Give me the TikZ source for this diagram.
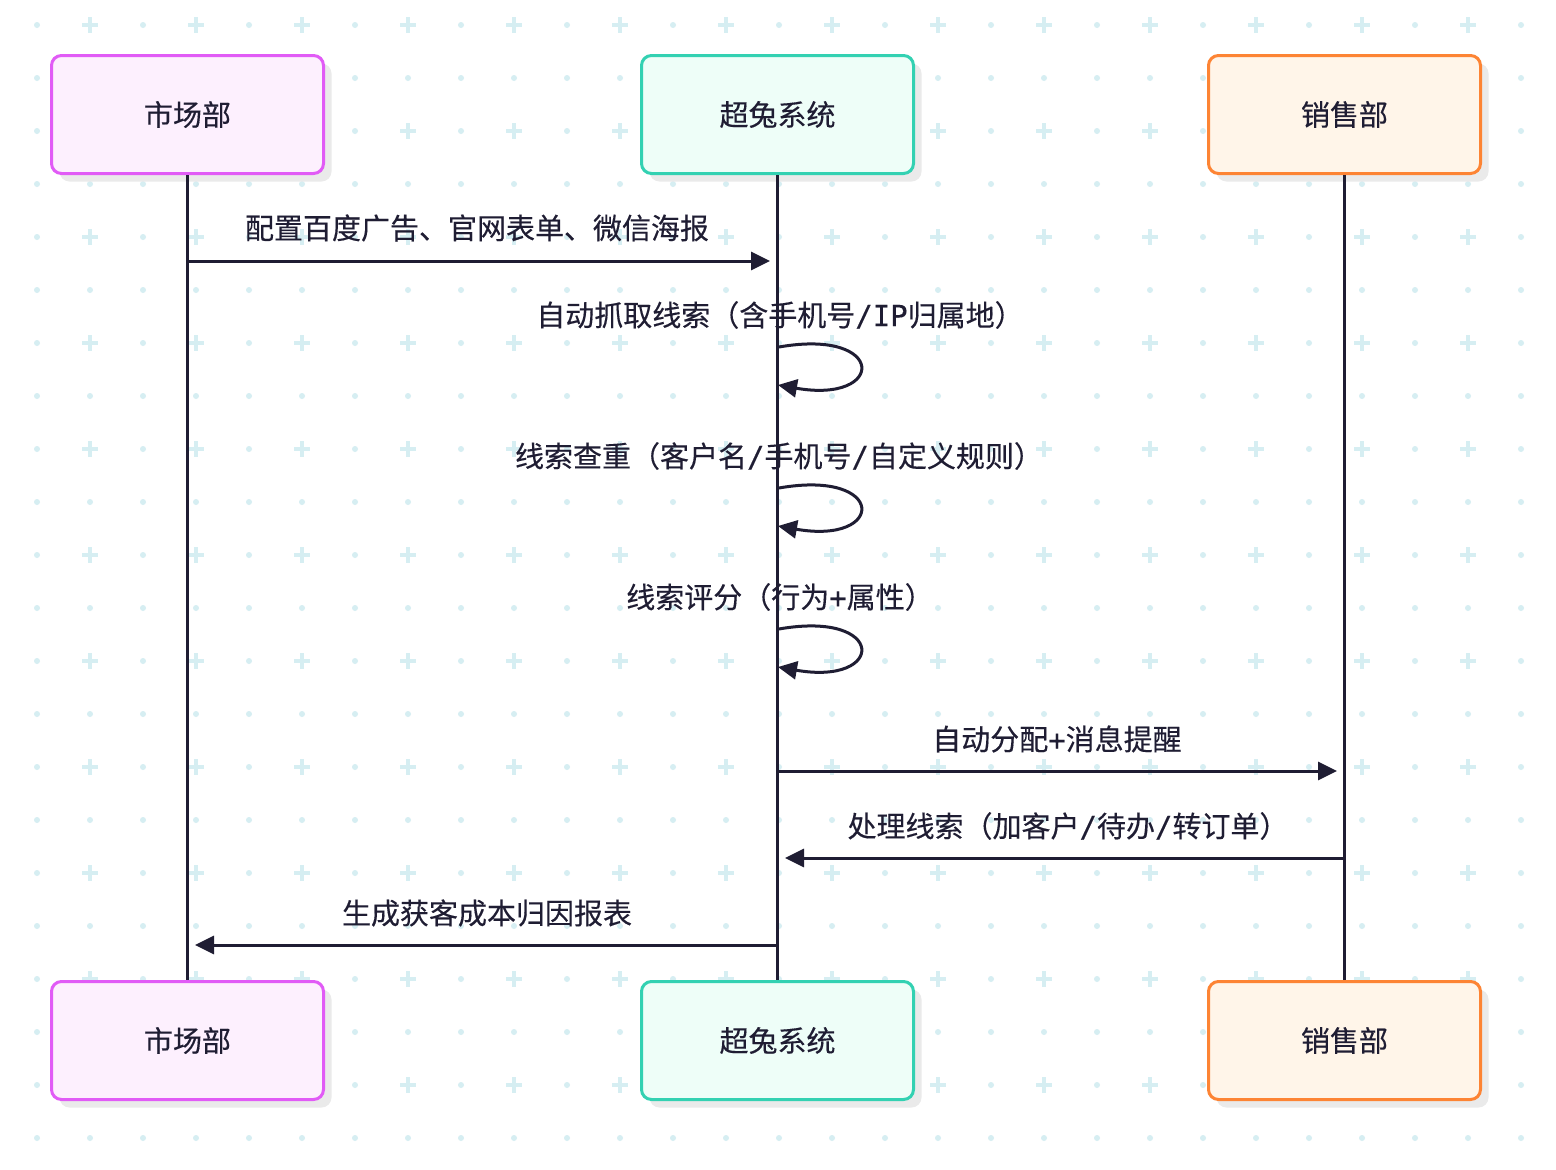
\documentclass[tikz,border=0pt]{standalone}
\usepackage{fontspec}
\setmainfont{Noto Sans CJK SC}[FakeBold=0.3]
\newfontfamily\latfont{DejaVu Sans Mono}[FakeBold=0.3]
\newcommand\lat[1]{{\latfont #1}}
\usetikzlibrary{arrows.meta,calc,shadows}
\definecolor{ink}{HTML}{1F1D33}
\definecolor{gridc}{HTML}{D6EEF2}
\definecolor{shadowc}{HTML}{EAEAEA}
\definecolor{magB}{HTML}{E15BF6}
\definecolor{magF}{HTML}{FDF0FE}
\definecolor{teaB}{HTML}{33D1B2}
\definecolor{teaF}{HTML}{EEFEF8}
\definecolor{oraB}{HTML}{FD8434}
\definecolor{oraF}{HTML}{FFF5E9}
\begin{document}
\begin{tikzpicture}[x=1pt,y=-1pt,
  actor/.style={draw, rounded corners=10pt, line width=3pt, minimum width=272pt,
    minimum height=118pt, inner sep=0pt, text=ink,
    font=\fontsize{29}{34}\selectfont,
    drop shadow={shadow xshift=8pt, shadow yshift=-8pt, fill=shadowc, opacity=1}},
  actM/.style={actor, draw=magB, fill=magF},
  actT/.style={actor, draw=teaB, fill=teaF},
  actO/.style={actor, draw=oraB, fill=oraF},
  life/.style={draw=ink, line width=3pt},
  msg/.style={draw=ink, line width=3pt, -{Triangle[length=19pt,width=18pt]}},
  lbl/.style={text=ink, inner sep=0pt, font=\fontsize{29}{34}\selectfont},
  gdot/.style={fill=gridc},
  gplus/.style={draw=gridc, line width=3.5pt}
]
\useasboundingbox (0,0) rectangle (1556,1170);
\fill[white] (0,0) rectangle (1556,1170);
% background grid
\foreach \k in {0,2,...,20} {
  \foreach \m in {0,...,14} \fill[gdot] ({37+106*\m},{25+53*\k}) circle[radius=3pt];
  \foreach \m in {0,...,13} \draw[gplus] ({90+106*\m-8},{25+53*\k}) -- ({90+106*\m+8},{25+53*\k})
     ({90+106*\m},{25+53*\k-8}) -- ({90+106*\m},{25+53*\k+8});
}
\foreach \k in {1,3,...,21} {
  \foreach \j in {0,...,28} \fill[gdot] ({37+53*\j},{25+53*\k}) circle[radius=3pt];
}
% actors
\node[actM] (m1) at (187.5,114.5) {市场部};
\node[actT] (s1) at (777.5,114.5) {超兔系统};
\node[actO] (x1) at (1344.5,114.5) {销售部};
\node[actM] (m2) at (187.5,1040.5) {市场部};
\node[actT] (s2) at (777.5,1040.5) {超兔系统};
\node[actO] (x2) at (1344.5,1040.5) {销售部};
% lifelines
\draw[life] (m1.south) -- (m2.north);
\draw[life] (s1.south) -- (s2.north);
\draw[life] (x1.south) -- (x2.north);
% message points
\coordinate (p1a) at (187.5,261);
\coordinate (p1b) at (770,261);
\coordinate (l1a) at (779,347);
\coordinate (l1b) at (778,385);
\coordinate (l2a) at (779,488);
\coordinate (l2b) at (778,526);
\coordinate (l3a) at (779,629);
\coordinate (l3b) at (778,667);
\coordinate (p5a) at (777.5,771);
\coordinate (p5b) at (1337,771);
\coordinate (p6a) at (1344.5,858);
\coordinate (p6b) at (785,858);
\coordinate (p7a) at (777.5,945);
\coordinate (p7b) at (195,945);
% messages
\draw[msg] (p1a) -- (p1b);
\node[lbl] (t1) at (477,228) {配置百度广告、官网表单、微信海报};
\draw[msg] (l1a) .. controls +(108,-19) and +(108,19) .. (l1b);
\node[lbl] (t2) at (780,315) {自动抓取线索（含手机号\lat{/IP}归属地）};
\draw[msg] (l2a) .. controls +(108,-19) and +(108,19) .. (l2b);
\node[lbl] (t3) at (779,456) {线索查重（客户名\lat{/}手机号\lat{/}自定义规则）};
\draw[msg] (l3a) .. controls +(108,-19) and +(108,19) .. (l3b);
\node[lbl] (t4) at (780,597) {线索评分（行为\lat{+}属性）};
\draw[msg] (p5a) -- (p5b);
\node[lbl] (t5) at (1057,739) {自动分配\lat{+}消息提醒};
\draw[msg] (p6a) -- (p6b);
\node[lbl] (t6) at (1068,826) {处理线索（加客户\lat{/}待办\lat{/}转订单）};
\draw[msg] (p7a) -- (p7b);
\node[lbl] (t7) at (487,913) {生成获客成本归因报表};
\end{tikzpicture}
\end{document}
